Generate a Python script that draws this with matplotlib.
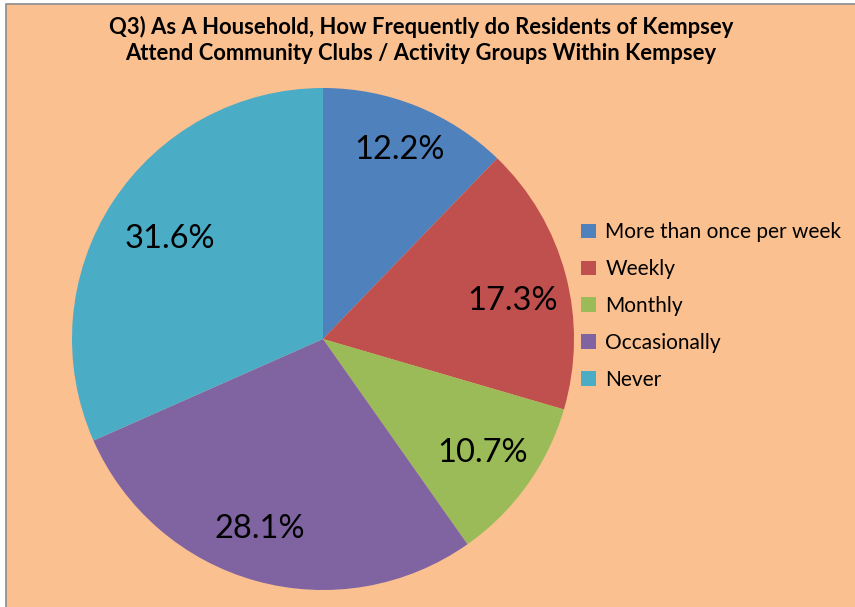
import numpy as np
import matplotlib.pyplot as plt
from matplotlib.patches import Rectangle

categories = ["More than once per week", "Weekly", "Monthly", "Occasionally", "Never"]
shares = [12.2, 17.3, 10.7, 28.1, 31.6]
colors = ["#4F81BD", "#C0504D", "#9BBB59", "#8064A2", "#4BACC6"]
title = ("Q3) As A Household, How Frequently do Residents of Kempsey\n"
         "Attend Community Clubs / Activity Groups Within Kempsey")

# percentage label placement: fraction of radius, and clockwise nudge in degrees
label_dist = [0.81, 0.77, 0.78, 0.80, 0.73]
label_turn = [0, 3.5, 0, 3, 0]

plt.rcParams["font.family"] = ["Lato", "DejaVu Sans"]

W, H = 855, 607
fig = plt.figure(figsize=(W / 100, H / 100), dpi=100)
fig.patch.set_facecolor("white")

# chart area background with thin grey frame
fig.patches.append(Rectangle((6 / W, -0.01), 1.0, 1 - 4 / H + 0.01,
                             transform=fig.transFigure, facecolor="#FAC090",
                             edgecolor="#8C8C8C", linewidth=1.2, zorder=-10))

cx, cy, r = 323, 339, 251
ax = fig.add_axes([(cx - r) / W, (H - cy - r) / H, 2 * r / W, 2 * r / H])
ax.set_facecolor("none")

wedges, texts, autotexts = ax.pie(
    shares, colors=colors, startangle=90, counterclock=False,
    autopct=lambda p: f"{p:.1f}%", pctdistance=0.78,
    wedgeprops=dict(linewidth=0), textprops=dict(fontsize=23.5, color="black"))
for w, t, d, turn in zip(wedges, autotexts, label_dist, label_turn):
    ang = np.deg2rad((w.theta1 + w.theta2) / 2 - turn)
    t.set_position((d * np.cos(ang), d * np.sin(ang)))

ax.set_xlim(-1, 1)
ax.set_ylim(-1, 1)
ax.set_aspect("equal")
ax.axis("off")

fig.text(421 / W, 1 - 40 / H, title, ha="center", va="center",
         fontsize=15.8, fontweight="bold", linespacing=1.3)

fig.legend(wedges, categories, loc="center left",
           bbox_to_anchor=(573 / W, 1 - 306 / H), frameon=False,
           fontsize=15, handlelength=0.7, handleheight=0.7,
           handletextpad=0.45, labelspacing=0.81, borderaxespad=0)

fig.savefig("out.png", dpi=100)
